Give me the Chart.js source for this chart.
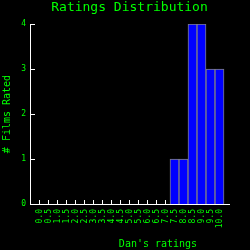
<!DOCTYPE html>
<html>
<head>
<meta charset="utf-8">
<script src="https://cdn.jsdelivr.net/npm/chart.js@4"></script>
<style>
  html, body { margin: 0; padding: 0; background: #000; }
  canvas { display: block; }
</style>
</head>
<body>
<canvas id="ratingsChart" width="250" height="250"></canvas>
<script>
// 评分分布数据
const ratingLabels = ['0.0', '0.5', '1.0', '1.5', '2.0', '2.5', '3.0', '3.5', '4.0', '4.5', '5.0',
                      '5.5', '6.0', '6.5', '7.0', '7.5', '8.0', '8.5', '9.0', '9.5', '10.0'];
const filmCounts = [0, 0, 0, 0, 0, 0, 0, 0, 0, 0, 0,
                    0, 0, 0, 0, 1, 1, 4, 4, 3, 3];
const countTicks = [0, 1, 2, 3, 4];

const green = '#00ff00';
const mono = '"DejaVu Sans Mono", monospace';

// 坐标轴内侧的小刻度线 + x 轴标题
const axisDecor = {
    id: 'axisDecor',
    beforeDatasetsDraw(chart) {
        const ctx = chart.ctx;
        const x = chart.scales.x, y = chart.scales.y;
        const area = chart.chartArea;
        ctx.save();
        ctx.strokeStyle = '#ffffff';
        ctx.lineWidth = 1;
        ctx.beginPath();
        x.ticks.forEach(t => {
            const px = Math.floor(x.getPixelForValue(t.value)) + 0.5;
            ctx.moveTo(px, area.bottom);
            ctx.lineTo(px, area.bottom - 4);
        });
        y.ticks.forEach(t => {
            if (t.value === 0) return;
            const py = Math.floor(y.getPixelForValue(t.value)) + 0.5;
            ctx.moveTo(area.left, py);
            ctx.lineTo(area.left + 5, py);
        });
        ctx.stroke();
        ctx.restore();
    },
    afterDraw(chart) {
        const ctx = chart.ctx;
        const area = chart.chartArea;
        ctx.save();
        ctx.fillStyle = green;
        ctx.font = '10px ' + mono;
        ctx.textAlign = 'center';
        ctx.textBaseline = 'middle';
        ctx.fillText("Dan's ratings", area.left + 128, chart.height - 6);
        ctx.restore();
    }
};

const ctx = document.getElementById('ratingsChart').getContext('2d');
new Chart(ctx, {
    type: 'bar',
    data: {
        datasets: [{
            data: ratingLabels.map((r, i) => ({ x: parseFloat(r), y: filmCounts[i] })),
            backgroundColor: '#0000ff',
            borderColor: '#808080',
            borderWidth: 1,
            categoryPercentage: 1,
            barPercentage: 1
        }]
    },
    options: {
        responsive: false,
        animation: false,
        devicePixelRatio: 1,
        layout: { padding: { left: 0, right: 21, top: 0, bottom: 0 } },
        plugins: {
            legend: { display: false },
            tooltip: { enabled: false },
            title: {
                display: true,
                text: 'Ratings Distribution',
                color: green,
                fullSize: false,
                font: { family: mono, size: 13, weight: 'normal', lineHeight: '16px' },
                padding: { top: 0, bottom: 8 }
            }
        },
        scales: {
            x: {
                type: 'linear',
                offset: false,
                bounds: 'data',
                min: -0.528,
                max: 10.528,
                grid: { display: false, drawTicks: false, offset: false },
                border: { display: true, color: '#ffffff', width: 1 },
                afterBuildTicks: s => { s.ticks = ratingLabels.map(r => ({ value: parseFloat(r) })); },
                afterFit: s => { s.height = 46; },
                ticks: {
                    color: green,
                    font: { family: mono, size: 8 },
                    autoSkip: false,
                    maxRotation: 90,
                    minRotation: 90,
                    padding: 5,
                    callback: v => v.toFixed(1)
                }
            },
            y: {
                min: 0,
                max: 4,
                grid: { display: false, drawTicks: false },
                border: { display: true, color: '#ffffff', width: 1 },
                afterBuildTicks: s => { s.ticks = countTicks.map(v => ({ value: v })); },
                afterFit: s => { s.width = 30; },
                ticks: {
                    color: green,
                    font: { family: mono, size: 8 },
                    padding: 4
                },
                title: {
                    display: true,
                    text: '# Films Rated',
                    color: green,
                    font: { family: mono, size: 10, lineHeight: '12px' },
                    padding: { top: 1.5, bottom: 0 }
                }
            }
        }
    },
    plugins: [axisDecor]
});
</script>
</body>
</html>
